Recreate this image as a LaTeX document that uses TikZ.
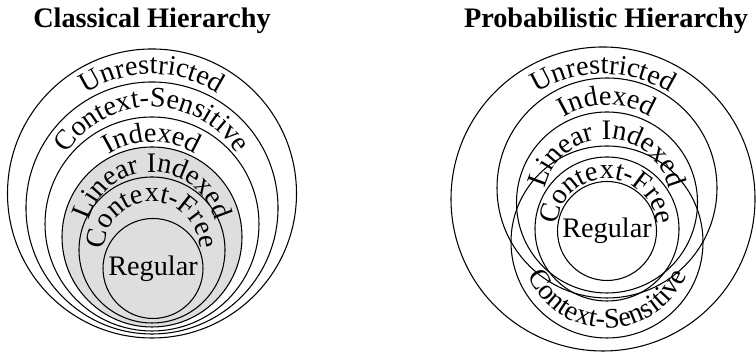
\documentclass[tikz,border=0pt]{standalone}
\usepackage{fontspec}
\setmainfont{Liberation Serif}
\usetikzlibrary{decorations.text}
\definecolor{setgray}{gray}{0.87}
\tikzset{
  heading/.style={font=\bfseries, anchor=base},
  arclabel/.style={decorate, decoration={text along path, text align=center, text={#1}}},
}
\begin{document}
\fontsize{10.6}{12.7}\selectfont
\begin{tikzpicture}[x=0.375pt, y=0.375pt]
\useasboundingbox (0,0) rectangle (756,354);
% classical hierarchy
\node[heading] (ch) at (152,326) {Classical Hierarchy};
\coordinate (cu) at (152,160.5);
\coordinate (ccs) at (152,146);
\coordinate (cix) at (152,130);
\coordinate (cli) at (152,117);
\coordinate (ccf) at (152,104);
\coordinate (creg) at (153,85.5);
\draw (cu) circle[radius=144.5];
\draw (ccs) circle[radius=126];
\draw (cix) circle[radius=107];
\draw[fill=setgray] (cli) circle[radius=90];
\draw (ccf) circle[radius=73];
\draw (creg) circle[radius=50];
\node (cr) at (creg) {Regular};
\path[arclabel={Unrestricted}] ([shift={(180:119.5)}]cu) arc[start angle=180, end angle=0, radius=119.5];
\path[arclabel={Context-Sensitive}] ([shift={(180:101)}]ccs) arc[start angle=180, end angle=0, radius=101];
\path[arclabel={Indexed}] ([shift={(180:82)}]cix) arc[start angle=180, end angle=0, radius=82];
\path[arclabel={Linear Indexed}] ([shift={(180:65)}]cli) arc[start angle=180, end angle=0, radius=65];
\path[arclabel={Context-Free}] ([shift={(180:48)}]ccf) arc[start angle=180, end angle=0, radius=48];
% probabilistic hierarchy
\node[heading] (ph) at (606,326) {Probabilistic Hierarchy};
\coordinate (pu) at (603,155);
\coordinate (pix) at (607,166);
\coordinate (pli) at (607,151.5);
\coordinate (pcs) at (607,112);
\coordinate (pcf) at (607,125);
\coordinate (preg) at (607,123);
\draw (pu) circle[radius=152];
\draw (pix) circle[radius=110];
\draw (pli) circle[radius=90.5];
\draw (pcs) circle[radius=96];
\draw (pcf) circle[radius=72];
\draw (preg) circle[radius=49.5];
\node (pr) at (preg) {Regular};
\path[arclabel={Unrestricted}] ([shift={(180:125)}]pu) arc[start angle=180, end angle=0, radius=125];
\path[arclabel={Indexed}] ([shift={(180:83)}]pix) arc[start angle=180, end angle=0, radius=83];
\path[arclabel={Linear Indexed}] ([shift={(180:63.5)}]pli) arc[start angle=180, end angle=0, radius=63.5];
\path[arclabel={Context-Free}] ([shift={(180:50)}]pcf) arc[start angle=180, end angle=0, radius=50];
\path[arclabel={Context-Sensitive}] ([shift={(180:86)}]pcs) arc[start angle=180, end angle=360, radius=86];
\end{tikzpicture}
\end{document}
